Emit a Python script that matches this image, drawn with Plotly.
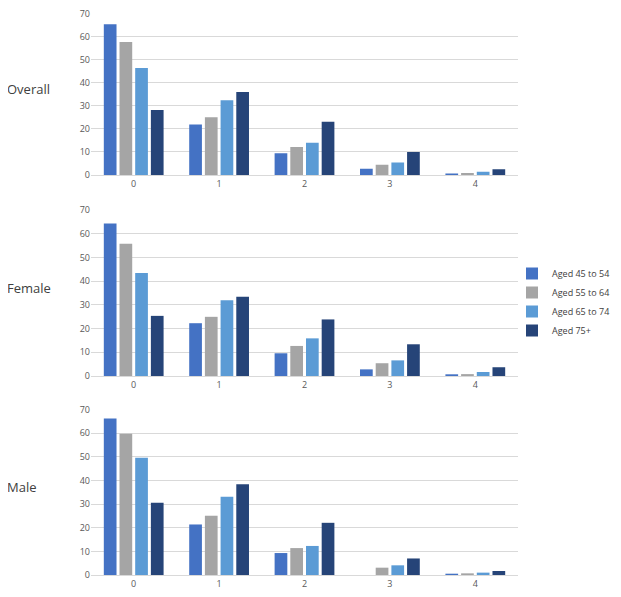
import plotly.graph_objects as go

categories = ["0", "1", "2", "3", "4"]
series_names = ["Aged 45 to 54", "Aged 55 to 64", "Aged 65 to 74", "Aged 75+"]
colors = ["#4472C4", "#A5A5A5", "#5B9BD5", "#264478"]
panel_labels = ["Overall", "Female", "Male"]

overall = [
    [65.3, 21.9, 9.4, 2.7, 0.6],
    [57.7, 25.0, 12.1, 4.4, 0.85],
    [46.4, 32.4, 14.0, 5.4, 1.4],
    [28.2, 36.0, 23.1, 10.0, 2.5],
]
female = [
    [64.4, 22.3, 9.6, 2.8, 0.4],
    [55.9, 25.0, 12.7, 5.4, 0.8],
    [43.5, 32.0, 15.9, 6.6, 1.7],
    [25.4, 33.5, 23.9, 13.4, 3.7],
]
male = [
    [66.3, 21.4, 9.3, 0.0, 0.4],
    [59.8, 25.1, 11.4, 3.1, 0.7],
    [49.6, 33.1, 12.3, 4.1, 1.0],
    [30.6, 38.4, 22.1, 7.0, 1.7],
]
y_ticks = [0, 10, 20, 30, 40, 50, 60, 70]

# page body has an 8px margin: figure coordinates = screen coordinates - 8
OFF = 8
W, H = 621 - OFF, 597 - OFF
FONT = "Open Sans"
TXT = "#595959"

panels = [overall, female, male]
# screen pixel extents of each plot area (top, bottom)
px_top = [(13.5, 175.0), (210.3, 376.0), (409.7, 575.0)]
x_left, x_right = 91, 518


def fx(px):
    return (px - OFF) / W


def fy(py):
    return 1 - (py - OFF) / H


fig = go.Figure()
for p, data in enumerate(panels):
    suffix = "" if p == 0 else str(p + 1)
    for s, name in enumerate(series_names):
        fig.add_trace(go.Bar(
            x=categories, y=data[s], name=name,
            marker=dict(color=colors[s], line=dict(width=0)),
            xaxis="x" + suffix, yaxis="y" + suffix,
            legendgroup=name, showlegend=(p == 0),
        ))

layout = dict(
    template="none",
    width=W, height=H,
    margin=dict(l=0, r=0, t=0, b=0, pad=0),
    paper_bgcolor="white", plot_bgcolor="white",
    barmode="group", bargap=0.265, bargroupgap=0.19,
    font=dict(family=FONT, size=9, color=TXT),
    showlegend=True,
    legend=dict(
        x=fx(512), y=fy(259), xanchor="left", yanchor="top",
        font=dict(family=FONT, size=9, color="#404040"),
        itemwidth=30, tracegroupgap=0, traceorder="normal",
        bgcolor="rgba(0,0,0,0)", borderwidth=0,
    ),
    annotations=[],
)
for p in range(3):
    suffix = "" if p == 0 else str(p + 1)
    top, bot = px_top[p]
    layout["xaxis" + suffix] = dict(
        domain=[fx(x_left), fx(x_right)], type="category",
        anchor="y" + suffix, showgrid=False, showline=True,
        linecolor="#d9d9d9", linewidth=1, ticks="",
        tickfont=dict(family=FONT, size=9, color=TXT),
        range=[-0.5, 4.5], fixedrange=True, automargin=False,
        ticklabeloverflow="allow",
    )
    layout["yaxis" + suffix] = dict(
        domain=[fy(bot), fy(top)], anchor="x" + suffix,
        range=[0, 70], tickvals=y_ticks, showgrid=True,
        gridcolor="#d9d9d9", gridwidth=1, zeroline=False,
        showline=False, ticks="",
        tickfont=dict(family=FONT, size=9, color=TXT),
        fixedrange=True, automargin=False,
        ticklabeloverflow="allow",
    )
    layout["annotations"].append(dict(
        text=panel_labels[p], x=fx(5), y=fy((top + bot) / 2 - 5),
        xref="paper", yref="paper", xanchor="left", yanchor="middle",
        showarrow=False, font=dict(family=FONT, size=13, color="#404040"),
    ))

fig.update_layout(**layout)
fig.write_html("out.html")
